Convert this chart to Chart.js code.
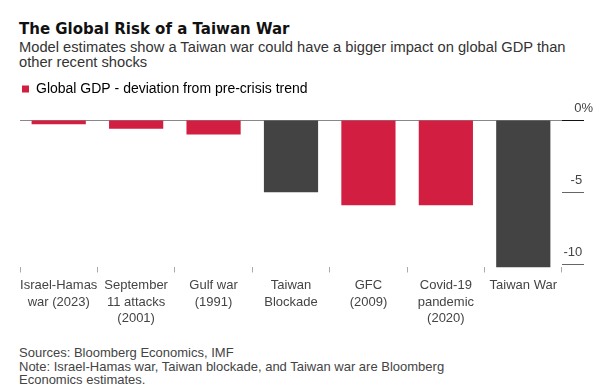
<!DOCTYPE html>
<html>
<head>
<meta charset="utf-8">
<script src="https://cdn.jsdelivr.net/npm/chart.js@4.4.1/dist/chart.umd.min.js"></script>
<style>
  body { margin: 0; width: 600px; height: 392px; background: #fff; position: relative; overflow: hidden; font-family: "Liberation Sans", sans-serif; }
  #title { position: absolute; left: 19px; top: 20px; font: bold 15px/18px "DejaVu Sans", sans-serif; color: #111; }
  #sub { position: absolute; left: 19px; top: 40px; font-size: 14.7px; line-height: 15px; color: #333; white-space: nowrap; }
  #box { position: absolute; left: 0; top: 80px; width: 600px; height: 252px; }
  #foot { position: absolute; left: 19px; top: 346px; font-size: 13px; line-height: 13.7px; color: #444; white-space: nowrap; }
</style>
</head>
<body>
<div id="title">The Global Risk of a Taiwan War</div>
<div id="sub">Model estimates show a Taiwan war could have a bigger impact on global GDP than<br>other recent shocks</div>
<div id="box"><canvas id="grafico"></canvas></div>
<div id="foot">Sources: Bloomberg Economics, IMF<br>Note: Israel-Hamas war, Taiwan blockade, and Taiwan war are Bloomberg<br>Economics estimates.</div>
<script>
// datos
const categorias = [
  ["Israel-Hamas", "war (2023)"],
  ["September", "11 attacks", "(2001)"],
  ["Gulf war", "(1991)"],
  ["Taiwan", "Blockade"],
  ["GFC", "(2009)"],
  ["Covid-19", "pandemic", "(2020)"],
  ["Taiwan War"]
];
const desviacion = [-0.3, -0.6, -1.0, -5.0, -5.9, -5.9, -10.2];
const escenarioTaiwan = [false, false, false, true, false, false, true];
const ticksY = [0, -5, -10];
const leyenda = "Global GDP - deviation from pre-crisis trend";

const ROJO = "#d21e41";
const GRIS = "#434343";

// espacio extra debajo de la leyenda
const margenLeyenda = {
  id: "margenLeyenda",
  beforeInit(chart) {
    const fit = chart.legend.fit;
    chart.legend.fit = function () {
      fit.bind(chart.legend)();
      this.height += 14;
    };
  }
};

new Chart(document.getElementById("grafico"), {
  type: "bar",
  data: {
    labels: categorias,
    datasets: [{
      label: leyenda,
      data: desviacion,
      backgroundColor: escenarioTaiwan.map(t => t ? GRIS : ROJO),
      categoryPercentage: 0.7,
      barPercentage: 1.0
    }]
  },
  plugins: [margenLeyenda],
  options: {
    responsive: true,
    maintainAspectRatio: false,
    animation: false,
    layout: { padding: { left: 20, right: 7, top: 0, bottom: 0 } },
    plugins: {
      tooltip: { enabled: false },
      legend: {
        position: "top",
        align: "start",
        labels: {
          boxWidth: 7,
          boxHeight: 7,
          padding: 2,
          color: "#444",
          font: { family: "Liberation Sans", size: 14 },
          generateLabels: () => [{ text: leyenda, fillStyle: ROJO, strokeStyle: ROJO, lineWidth: 0, datasetIndex: 0 }]
        }
      }
    },
    scales: {
      x: {
        offset: true,
        border: { display: false },
        grid: { drawOnChartArea: false, tickLength: 5, tickColor: "#aaa" },
        ticks: {
          maxRotation: 0,
          autoSkip: false,
          padding: 5,
          color: "#444",
          font: { family: "Liberation Sans", size: 13, lineHeight: 1.27 }
        }
      },
      y: {
        position: "right",
        min: -10.2,
        max: 0,
        border: { display: false },
        afterBuildTicks: s => { s.ticks = ticksY.map(v => ({ value: v })); },
        afterFit: s => { s.width = 31; },
        grid: {
          color: c => (c.tick && c.tick.value === 0) ? "#888" : "rgba(0,0,0,0)",
          tickColor: c => (c.tick && c.tick.value === 0) ? "#111" : "#666",
          tickLength: 22
        },
        ticks: {
          crossAlign: "far",
          padding: 0,
          labelOffset: -12,
          color: "#444",
          font: { family: "Liberation Sans", size: 13 },
          // el % queda colgado a la derecha de los numeros
          callback: v => v === 0 ? "0%" : v + "   "
        }
      }
    }
  }
});
</script>
</body>
</html>
